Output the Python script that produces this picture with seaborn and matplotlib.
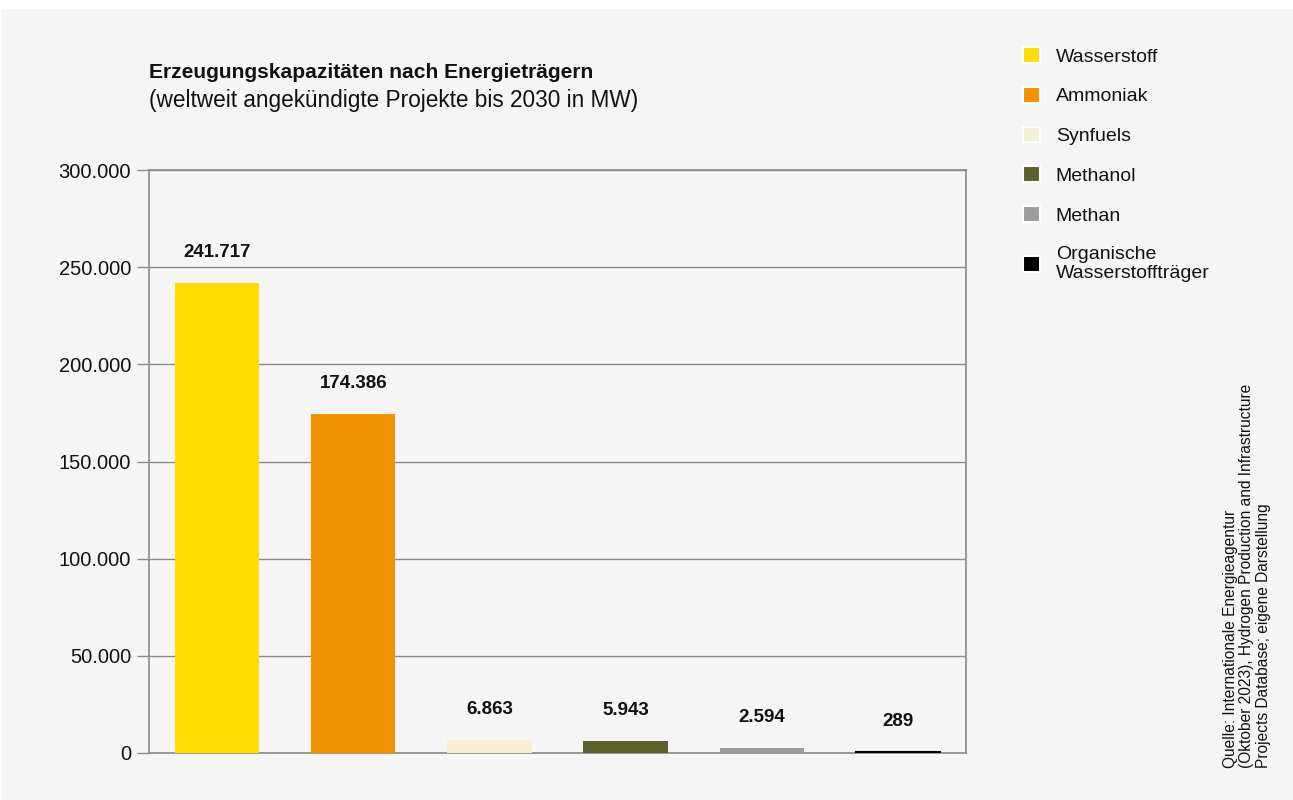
import matplotlib
matplotlib.use('Agg')
import matplotlib.pyplot as plt
import matplotlib.patches as mpatches
from matplotlib.ticker import FuncFormatter
import seaborn as sns
import pandas as pd

# Daten
traeger = ['Wasserstoff', 'Ammoniak', 'Synfuels', 'Methanol', 'Methan', 'Organische\nWasserstoffträger']
kapazitaet = [241717, 174386, 6863, 5943, 2594, 289]
farben = ['#FFDD00', '#F39200', '#F6EFD2', '#5C612C', '#9D9D9C', '#000000']
y_ticks = [0, 50000, 100000, 150000, 200000, 250000, 300000]

titel = 'Erzeugungskapazitäten nach Energieträgern'
untertitel = '(weltweit angekündigte Projekte bis 2030 in MW)'
quelle = ('Quelle: Internationale Energieagentur\n'
          '(Oktober 2023), Hydrogen Production and Infrastructure\n'
          'Projects Database; eigene Darstellung')

def de_format(v):
    return f'{int(v):,}'.replace(',', '.')

sns.set_theme(style='white')
plt.rcParams['font.family'] = ['Liberation Sans', 'DejaVu Sans']

df = pd.DataFrame({'traeger': traeger, 'kapazitaet': kapazitaet})

fig = plt.figure(figsize=(12.93, 8), dpi=100)
fig.patch.set_facecolor('white')
fig.patches.append(mpatches.Rectangle((2 / 1293, 0), 1, 1 - 9 / 800, transform=fig.transFigure,
                                      facecolor='#F5F5F5', edgecolor='none', zorder=-10))

ax = fig.add_axes([149 / 1293, 47 / 800, 817 / 1293, 583 / 800])
ax.set_facecolor('#F5F5F5')

sns.barplot(data=df, x='traeger', y='kapazitaet', hue='traeger', palette=farben,
            legend=False, width=0.62, saturation=1, linewidth=0, ax=ax, zorder=3)

# kleinste Balken sichtbar halten
for p in ax.patches:
    if p.get_height() < 1000:
        p.set_edgecolor('#000000')
        p.set_linewidth(1.5)

ax.set_xlim(-0.5, len(traeger) - 0.5)
ax.set_ylim(0, 300000)
ax.set_yticks(y_ticks)
ax.yaxis.set_major_formatter(FuncFormatter(lambda v, _: de_format(v)))
ax.set_xticks([])
ax.set_xlabel('')
ax.set_ylabel('')
ax.grid(axis='y', color='#8A8A8A', linewidth=1, zorder=0)
for s in ax.spines.values():
    s.set_color('#8A8A8A')
    s.set_linewidth(1.2)
ax.tick_params(axis='y', length=8.6, width=1, color='#8A8A8A', labelsize=14.5, pad=4.3,
               labelcolor='#111111', left=True)

for i, v in enumerate(kapazitaet):
    ax.annotate(de_format(v), (i, v), xytext=(0, 22), textcoords='offset points',
                ha='center', va='center', fontsize=13.5, fontweight='bold', color='#111111')

fig.text(149 / 1293, 1 - 72 / 800, titel, fontsize=15.1, fontweight='bold', va='center', color='#111111')
fig.text(149 / 1293, 1 - 100 / 800, untertitel, fontsize=16.3, va='center', color='#111111')

handles = [mpatches.Patch(facecolor=c, edgecolor='white', linewidth=1.5) for c in farben]
leg = fig.legend(handles, traeger, loc='upper left', bbox_to_anchor=(1023 / 1293, 1 - 47 / 800),
                 frameon=False, fontsize=14, handlelength=0.87, handleheight=0.87,
                 handletextpad=0.82, labelspacing=1.09, borderaxespad=0, borderpad=0)
leg.get_texts()[-1].set_linespacing(1.15)
for t in leg.get_texts():
    t.set_color('#111111')

fig.text(1247 / 1293, 1 - 768 / 800, quelle, rotation=90, fontsize=11.2, ha='center', va='bottom',
         multialignment='left', linespacing=1.15, color='#111111')

fig.savefig('out.png', dpi=100, facecolor=fig.get_facecolor())
